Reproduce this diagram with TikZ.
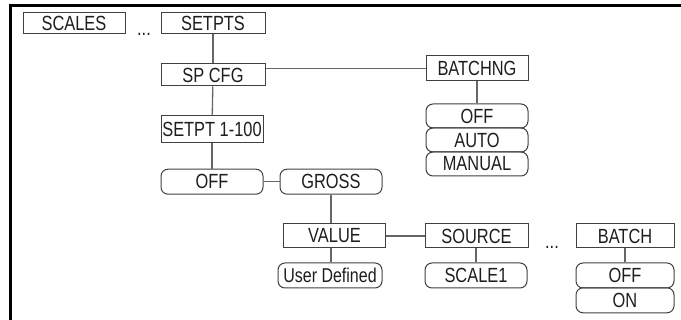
\documentclass[tikz,border=0pt]{standalone}
\usepackage{fontspec}
\setmainfont{Liberation Sans}[FakeStretch=0.8]
\definecolor{boxline}{HTML}{404040}
\definecolor{conn}{HTML}{666666}
\definecolor{txt}{HTML}{1E1E1E}
\begin{document}
\begin{tikzpicture}[x=1pt,y=-1pt,
  sq/.style={draw=boxline, line width=1pt, inner sep=0pt, text=txt,
    minimum width=102pt, minimum height=24pt,
    font=\fontsize{20.5}{20.5}\selectfont},
  rd/.style={sq, rounded corners=7pt},
  conline/.style={draw=conn, line width=1.3pt},
  dots/.style={inner sep=0pt, text=txt, font=\fontsize{20.5}{20.5}\selectfont, anchor=base}]
\useasboundingbox (0,0) rectangle (681,320);
% frame
\draw[line width=3pt, black] (10.5,320) -- (10.5,5.5) -- (681,5.5);
% nodes
\node[sq, minimum height=21pt] (scales) at (74,23.5) {SCALES};
\node[dots] (d1) at (144,36) {...};
\node[sq, minimum width=104pt, minimum height=21pt] (setpts) at (213,23.5) {SETPTS};
\node[sq, minimum width=104pt, minimum height=22pt] (spcfg) at (213,75) {SP CFG};
\node[sq, minimum height=25pt] (batchng) at (477,68.2) {BATCHNG};
\node[rd] (boff) at (477,116) {OFF};
\node[rd] (bauto) at (477,140) {AUTO};
\node[rd] (bman) at (477,164) {MANUAL};
\node[sq, minimum height=27pt] (setpt) at (212,129.5) {SETPT 1-100};
\node[rd, minimum height=25pt] (off) at (212,181.7) {OFF};
\node[rd, minimum height=25pt] (gross) at (331,181.7) {GROSS};
\node[sq] (value) at (334.5,236) {VALUE};
\node[sq, minimum width=103pt] (source) at (476.5,236) {SOURCE};
\node[rd, minimum width=104pt, minimum height=25pt, font=\fontsize{20}{20}\selectfont] (user) at (330,275.5) {User Defined};
\node[rd, minimum height=25pt] (scale1) at (476,275.5) {SCALE1};
\node[dots] (d2) at (552,249) {...};
\node[sq, minimum width=98pt] (batch) at (625,236) {BATCH};
\node[rd, minimum width=98pt, minimum height=25pt] (off2) at (625,275.5) {OFF};
\node[rd, minimum width=98pt, minimum height=25pt] (on) at (625,300.3) {ON};
% connectors
\draw[conline] (setpts) -- (spcfg);
\draw[conline] (batchng.west) -- (batchng.west -| spcfg.east);
\draw[conline] (batchng) -- (boff);
\draw[conline] (spcfg) -- (setpt);
\draw[conline] (setpt) -- (off);
\draw[conline] (off) -- (gross);
\draw[conline] (gross.south) -- (gross.south |- value.north);
\draw[conline] (value) -- (source);
\draw[conline] (gross.south |- value.south) -- (gross.south |- user.north);
\draw[conline] (source.south -| scale1) -- (scale1.north);
\draw[conline] (batch.south -| off2) -- (off2.north);
\end{tikzpicture}
\end{document}
